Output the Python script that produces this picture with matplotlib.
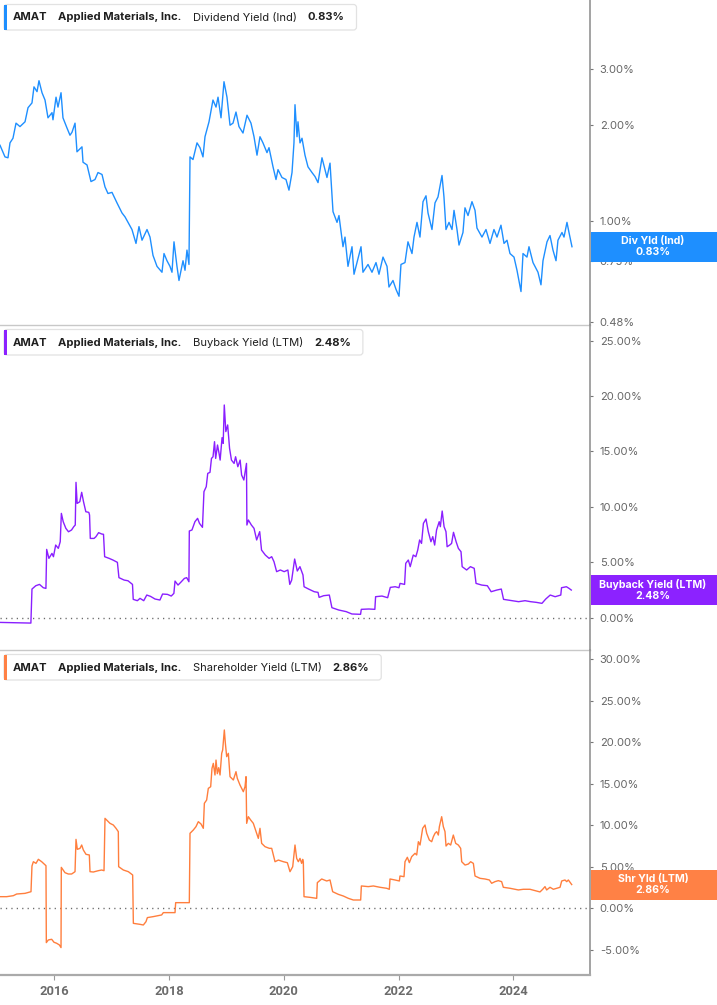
import matplotlib
matplotlib.use('Agg')
import matplotlib.pyplot as plt
from matplotlib.patches import FancyBboxPatch, Rectangle
from matplotlib.transforms import IdentityTransform
from matplotlib.ticker import FixedLocator, NullLocator

# ---------------- data (decimal years, percent) ----------------
div_dates = [2015.056, 2015.143, 2015.195, 2015.230, 2015.282, 2015.335, 2015.404, 2015.492, 2015.544, 2015.613,
             2015.648, 2015.701, 2015.735, 2015.788, 2015.840, 2015.892, 2015.962, 2015.979, 2016.032, 2016.066,
             2016.119, 2016.153, 2016.223, 2016.275, 2016.310, 2016.363, 2016.397, 2016.484, 2016.502, 2016.572,
             2016.641, 2016.711, 2016.763, 2016.833, 2016.885, 2016.937, 2017.007, 2017.094, 2017.181, 2017.234,
             2017.286, 2017.355, 2017.425, 2017.477, 2017.530, 2017.617, 2017.669, 2017.721, 2017.791, 2017.878,
             2017.913, 2017.965, 2018.017, 2018.052, 2018.087, 2018.139, 2018.174, 2018.244, 2018.279, 2018.313,
             2018.348, 2018.366, 2018.418, 2018.488, 2018.540, 2018.592, 2018.627, 2018.697, 2018.766, 2018.819,
             2018.854, 2018.906, 2018.958, 2019.010, 2019.063, 2019.115, 2019.167, 2019.219, 2019.289, 2019.359,
             2019.428, 2019.481, 2019.533, 2019.585, 2019.637, 2019.707, 2019.742, 2019.812, 2019.864, 2019.899,
             2019.968, 2020.038, 2020.090, 2020.143, 2020.177, 2020.195, 2020.230, 2020.247, 2020.282, 2020.317,
             2020.369, 2020.421, 2020.491, 2020.543, 2020.596, 2020.665, 2020.752, 2020.805, 2020.857, 2020.927,
             2020.961, 2021.031, 2021.066, 2021.118, 2021.188, 2021.223, 2021.275, 2021.345, 2021.379, 2021.467,
             2021.536, 2021.606, 2021.658, 2021.728, 2021.798, 2021.832, 2021.902, 2021.954, 2022.007, 2022.041,
             2022.111, 2022.163, 2022.233, 2022.268, 2022.320, 2022.372, 2022.425, 2022.477, 2022.512, 2022.581,
             2022.634, 2022.686, 2022.756, 2022.790, 2022.825, 2022.878, 2022.930, 2022.965, 2023.017, 2023.052,
             2023.121, 2023.156, 2023.209, 2023.278, 2023.331, 2023.365, 2023.452, 2023.522, 2023.592, 2023.661,
             2023.714, 2023.783, 2023.836, 2023.888, 2023.940, 2024.010, 2024.062, 2024.132, 2024.167, 2024.236,
             2024.271, 2024.341, 2024.428, 2024.480, 2024.515, 2024.585, 2024.637, 2024.689, 2024.742, 2024.776,
             2024.846, 2024.881, 2024.933, 2024.968, 2025.020]
div_vals = [1.73, 1.59, 1.58, 1.76, 1.82, 2.03, 1.98, 2.05, 2.27, 2.35,
            2.64, 2.55, 2.76, 2.53, 2.40, 2.11, 2.19, 2.08, 2.45, 2.28,
            2.53, 2.11, 1.96, 1.86, 1.90, 2.03, 1.65, 1.71, 1.53, 1.50,
            1.33, 1.35, 1.42, 1.40, 1.28, 1.22, 1.23, 1.14, 1.06, 1.03,
            0.99, 0.94, 0.85, 0.96, 0.87, 0.94, 0.89, 0.78, 0.72, 0.69,
            0.79, 0.75, 0.72, 0.69, 0.86, 0.72, 0.65, 0.75, 0.70, 0.81,
            0.73, 1.59, 1.56, 1.76, 1.70, 1.59, 1.84, 2.05, 2.40, 2.28,
            2.45, 2.11, 2.74, 2.45, 2.00, 2.03, 2.20, 1.98, 1.89, 2.15,
            2.03, 1.84, 1.61, 1.84, 1.76, 1.64, 1.70, 1.48, 1.35, 1.45,
            1.37, 1.35, 1.25, 1.42, 1.76, 2.32, 1.84, 2.05, 1.76, 1.82,
            1.61, 1.48, 1.42, 1.38, 1.32, 1.58, 1.37, 1.52, 1.07, 0.99,
            1.04, 0.83, 0.89, 0.72, 0.83, 0.68, 0.74, 0.83, 0.69, 0.73,
            0.69, 0.74, 0.68, 0.77, 0.72, 0.62, 0.65, 0.61, 0.58, 0.73,
            0.74, 0.86, 0.79, 0.89, 0.99, 0.89, 1.15, 1.20, 1.06, 0.94,
            1.14, 1.19, 1.39, 1.19, 0.94, 0.99, 0.94, 1.08, 0.94, 0.84,
            0.92, 1.10, 1.04, 1.15, 1.08, 0.95, 0.89, 0.94, 0.85, 0.94,
            0.89, 0.97, 0.85, 0.87, 0.79, 0.77, 0.70, 0.60, 0.79, 0.77,
            0.83, 0.74, 0.69, 0.63, 0.75, 0.86, 0.90, 0.81, 0.75, 0.87,
            0.92, 0.89, 0.99, 0.92, 0.83]

bb_dates = [2015.056, 2015.318, 2015.594, 2015.613, 2015.679, 2015.744, 2015.810, 2015.856, 2015.869, 2015.908,
            2015.961, 2015.987, 2016.026, 2016.072, 2016.105, 2016.125, 2016.157, 2016.203, 2016.249, 2016.302,
            2016.341, 2016.367, 2016.380, 2016.400, 2016.446, 2016.479, 2016.511, 2016.551, 2016.603, 2016.616,
            2016.629, 2016.695, 2016.728, 2016.774, 2016.826, 2016.859, 2016.879, 2016.957, 2017.023, 2017.101,
            2017.128, 2017.219, 2017.285, 2017.364, 2017.377, 2017.449, 2017.495, 2017.560, 2017.613, 2017.678,
            2017.757, 2017.842, 2017.888, 2017.973, 2018.039, 2018.085, 2018.105, 2018.157, 2018.203, 2018.268,
            2018.308, 2018.347, 2018.354, 2018.400, 2018.452, 2018.498, 2018.531, 2018.583, 2018.609, 2018.649,
            2018.675, 2018.714, 2018.740, 2018.767, 2018.793, 2018.813, 2018.845, 2018.872, 2018.891, 2018.924,
            2018.944, 2018.963, 2018.990, 2019.022, 2019.055, 2019.088, 2019.134, 2019.160, 2019.199, 2019.239,
            2019.265, 2019.304, 2019.350, 2019.357, 2019.383, 2019.435, 2019.481, 2019.527, 2019.580, 2019.612,
            2019.678, 2019.744, 2019.789, 2019.829, 2019.875, 2019.940, 2020.006, 2020.071, 2020.104, 2020.137,
            2020.189, 2020.235, 2020.281, 2020.334, 2020.353, 2020.432, 2020.530, 2020.596, 2020.615, 2020.694,
            2020.793, 2020.838, 2020.956, 2021.088, 2021.186, 2021.337, 2021.350, 2021.481, 2021.586, 2021.599,
            2021.710, 2021.809, 2021.855, 2021.940, 2022.006, 2022.025, 2022.104, 2022.124, 2022.169, 2022.202,
            2022.255, 2022.300, 2022.333, 2022.366, 2022.399, 2022.432, 2022.477, 2022.517, 2022.563, 2022.595,
            2022.628, 2022.661, 2022.707, 2022.727, 2022.759, 2022.792, 2022.825, 2022.845, 2022.890, 2022.923,
            2022.956, 2023.002, 2023.041, 2023.087, 2023.107, 2023.185, 2023.251, 2023.317, 2023.349, 2023.448,
            2023.546, 2023.612, 2023.710, 2023.789, 2023.828, 2023.972, 2024.090, 2024.202, 2024.300, 2024.398,
            2024.497, 2024.563, 2024.641, 2024.727, 2024.825, 2024.838, 2024.923, 2024.969, 2025.008]
bb_vals = [-0.44, -0.47, -0.50, 2.57, 2.87, 2.99, 2.69, 2.63, 6.15, 5.34,
           5.79, 5.49, 6.54, 6.24, 6.84, 9.40, 8.65, 8.05, 7.74, 7.90,
           8.20, 8.35, 12.20, 10.30, 10.45, 11.30, 10.45, 9.55, 9.49, 9.25,
           7.14, 7.14, 7.30, 7.66, 7.54, 7.51, 5.49, 5.34, 5.19, 4.98,
           3.60, 3.38, 3.32, 2.99, 1.64, 1.52, 1.73, 1.52, 2.03, 1.91,
           1.67, 1.58, 2.12, 2.09, 1.94, 2.18, 3.29, 2.93, 3.17, 3.53,
           3.60, 3.23, 7.81, 7.90, 8.65, 8.95, 8.50, 8.14, 11.36, 11.81,
           13.01, 13.10, 14.36, 14.51, 15.87, 14.36, 15.57, 14.81, 14.21, 16.23,
           15.72, 19.18, 16.78, 17.38, 15.27, 14.21, 13.91, 14.51, 13.61, 14.21,
           12.86, 12.41, 13.91, 8.35, 8.80, 8.35, 8.05, 7.00, 7.75, 6.09,
           5.64, 5.34, 5.49, 5.04, 4.14, 4.29, 4.14, 4.29, 2.99, 3.38,
           5.28, 4.20, 4.59, 3.84, 2.78, 2.57, 2.33, 2.27, 1.82, 1.97,
           2.03, 0.89, 0.68, 0.53, 0.32, 0.29, 0.74, 0.77, 0.74, 1.88,
           1.94, 1.79, 2.72, 2.78, 2.69, 3.08, 2.99, 4.89, 5.19, 4.59,
           5.64, 5.49, 6.09, 7.00, 6.69, 8.50, 8.89, 7.75, 6.84, 7.30,
           6.54, 7.90, 8.65, 8.20, 9.61, 8.20, 7.75, 6.39, 6.54, 6.69,
           7.69, 6.84, 6.24, 5.94, 4.59, 4.29, 4.59, 4.44, 3.08, 2.93,
           2.87, 2.33, 2.48, 2.57, 1.64, 1.52, 1.43, 1.52, 1.43, 1.37,
           1.28, 1.67, 2.03, 1.88, 2.03, 2.69, 2.78, 2.63, 2.48]

shr_dates = [2015.056, 2015.172, 2015.288, 2015.346, 2015.492, 2015.596, 2015.613, 2015.637, 2015.683, 2015.724,
             2015.782, 2015.857, 2015.863, 2015.898, 2015.956, 2015.997, 2016.043, 2016.090, 2016.119, 2016.124,
             2016.188, 2016.246, 2016.304, 2016.363, 2016.380, 2016.403, 2016.450, 2016.479, 2016.508, 2016.554,
             2016.612, 2016.624, 2016.682, 2016.769, 2016.827, 2016.868, 2016.885, 2016.914, 2016.972, 2017.030,
             2017.077, 2017.117, 2017.123, 2017.205, 2017.292, 2017.367, 2017.379, 2017.495, 2017.553, 2017.599,
             2017.623, 2017.727, 2017.872, 2017.901, 2018.105, 2018.116, 2018.250, 2018.354, 2018.366, 2018.424,
             2018.470, 2018.511, 2018.558, 2018.598, 2018.616, 2018.656, 2018.685, 2018.726, 2018.749, 2018.772,
             2018.801, 2018.819, 2018.842, 2018.865, 2018.889, 2018.918, 2018.935, 2018.964, 2018.982, 2019.005,
             2019.034, 2019.063, 2019.121, 2019.167, 2019.190, 2019.237, 2019.295, 2019.324, 2019.342, 2019.353,
             2019.382, 2019.423, 2019.469, 2019.516, 2019.556, 2019.585, 2019.614, 2019.673, 2019.748, 2019.789,
             2019.847, 2019.905, 2019.992, 2020.062, 2020.108, 2020.155, 2020.195, 2020.224, 2020.253, 2020.282,
             2020.311, 2020.329, 2020.340, 2020.352, 2020.456, 2020.573, 2020.584, 2020.660, 2020.747, 2020.805,
             2020.851, 2020.950, 2021.037, 2021.124, 2021.211, 2021.339, 2021.351, 2021.473, 2021.560, 2021.676,
             2021.792, 2021.838, 2021.850, 2021.937, 2022.013, 2022.024, 2022.094, 2022.111, 2022.152, 2022.187,
             2022.228, 2022.286, 2022.315, 2022.344, 2022.373, 2022.419, 2022.460, 2022.489, 2022.535, 2022.576,
             2022.605, 2022.634, 2022.663, 2022.692, 2022.710, 2022.750, 2022.779, 2022.808, 2022.826, 2022.866,
             2022.907, 2022.953, 2022.994, 2023.040, 2023.081, 2023.099, 2023.157, 2023.215, 2023.255, 2023.302,
             2023.331, 2023.418, 2023.505, 2023.581, 2023.621, 2023.679, 2023.737, 2023.795, 2023.824, 2023.941,
             2024.028, 2024.086, 2024.173, 2024.289, 2024.376, 2024.463, 2024.510, 2024.550, 2024.579, 2024.637,
             2024.696, 2024.754, 2024.812, 2024.841, 2024.899, 2024.928, 2024.957, 2025.015]
shr_vals = [1.40, 1.40, 1.52, 1.72, 1.80, 2.00, 5.09, 5.61, 5.41, 5.90,
            5.61, 5.13, -4.13, -3.81, -3.73, -4.09, -4.21, -4.41, -4.73, 4.93,
            4.29, 4.13, 4.13, 4.41, 8.30, 7.10, 7.22, 7.62, 7.02, 6.50,
            6.42, 4.41, 4.37, 4.53, 4.61, 4.53, 10.83, 10.63, 10.23, 10.03,
            9.63, 9.23, 5.01, 4.61, 4.41, 4.01, -1.81, -1.93, -2.01, -1.61,
            -1.12, -1.00, -0.80, -0.52, -0.52, 0.68, 0.68, 0.68, 9.03, 9.43,
            9.83, 10.43, 10.15, 9.63, 12.64, 13.04, 14.44, 14.64, 16.85, 17.45,
            16.05, 17.85, 16.21, 16.93, 16.05, 18.66, 19.06, 21.47, 19.86, 18.26,
            18.66, 15.85, 15.45, 16.45, 15.65, 14.84, 14.04, 14.64, 15.85, 10.23,
            11.03, 10.63, 10.23, 9.23, 8.42, 9.63, 7.82, 7.42, 7.22, 7.22,
            5.61, 5.81, 5.61, 5.49, 4.41, 5.01, 7.62, 6.01, 5.61, 6.01,
            5.41, 5.89, 5.61, 1.40, 1.32, 1.20, 3.09, 3.53, 3.29, 3.41,
            2.00, 1.68, 1.48, 1.20, 1.00, 1.00, 2.69, 2.61, 2.69, 2.53,
            2.41, 2.29, 3.53, 3.41, 3.29, 3.89, 3.81, 5.61, 6.14, 5.50,
            6.22, 6.62, 6.42, 8.02, 7.62, 9.63, 10.03, 9.03, 8.22, 8.02,
            8.62, 9.03, 9.23, 8.82, 9.83, 11.03, 9.83, 9.23, 7.50, 7.82,
            7.62, 8.82, 7.82, 7.62, 7.22, 5.61, 5.21, 5.33, 5.61, 5.41,
            3.89, 3.61, 3.53, 3.41, 3.01, 3.21, 3.33, 3.21, 2.53, 2.41,
            2.29, 2.21, 2.29, 2.29, 2.13, 1.97, 2.29, 2.61, 2.21, 2.53,
            2.29, 2.41, 2.53, 3.29, 3.41, 3.21, 3.41, 2.86]

assert len(div_dates) == len(div_vals), (len(div_dates), len(div_vals))
assert len(bb_dates) == len(bb_vals), (len(bb_dates), len(bb_vals))
assert len(shr_dates) == len(shr_vals), (len(shr_dates), len(shr_vals))

ticker = "AMAT"
company = "Applied Materials, Inc."
metric_names = ["Dividend Yield (Ind)", "Buyback Yield (LTM)", "Shareholder Yield (LTM)"]
short_names = ["Div Yld (Ind)", "Buyback Yield (LTM)", "Shr Yld (LTM)"]
last_vals = [0.83, 2.48, 2.86]
div_ticks = [0.48, 0.75, 1.00, 2.00, 3.00]
bb_ticks = [0, 5, 10, 15, 20, 25]
shr_ticks = [-5, 0, 5, 10, 15, 20, 25, 30]
year_ticks = [2016, 2018, 2020, 2022, 2024]

colors_line = ['#1E8FFF', '#8A1FFF', '#FF7E3D']
colors_box = ['#1E8FFF', '#8C22FF', '#FF8145']

# ---------------- figure ----------------
W, H = 717, 1005
fig = plt.figure(figsize=(W / 100, H / 100), dpi=100)
FONT = ['Inter', 'DejaVu Sans']
XFONT = ['Roboto', 'DejaVu Sans']
RIGHT = 590


def px_axes(top, bottom):
    return fig.add_axes([0, 1 - bottom / H, RIGHT / W, (bottom - top) / H])


ax1 = px_axes(0, 325)
ax2 = px_axes(325, 650)
ax3 = px_axes(650, 975)
axes = [ax1, ax2, ax3]

ax1.plot(div_dates, div_vals, color=colors_line[0], lw=1.0)
ax2.plot(bb_dates, bb_vals, color=colors_line[1], lw=1.0)
ax3.plot(shr_dates, shr_vals, color=colors_line[2], lw=1.0)

ax1.set_yscale('log')
ax1.set_ylim(0.471, 4.95)
ax2.set_ylim(-2.93, 26.40)
ax3.set_ylim(-8.03, 31.10)

for ax, ticks in zip(axes, [div_ticks, bb_ticks, shr_ticks]):
    ax.set_xlim(2015.056, 2025.334)
    ax.yaxis.set_major_locator(FixedLocator(ticks))
    ax.yaxis.set_minor_locator(NullLocator())
    ax.set_yticklabels([f"{t:.2f}%" for t in ticks])
    ax.yaxis.tick_right()
    ax.tick_params(axis='y', which='major', direction='out', length=2.5, width=0.8,
                   color='#777777', labelcolor='#666666', labelsize=8, pad=4.5)
    for lab in ax.get_yticklabels():
        lab.set_family(FONT)
    ax.spines['left'].set_visible(False)
    ax.spines['top'].set_visible(False)
    ax.spines['right'].set_color('#8a8a8a')
    ax.spines['right'].set_linewidth(1.1)
    ax.set_facecolor('none')

for ax in [ax1, ax2]:
    ax.set_xticks([])
    ax.spines['bottom'].set_color('#c8c8c8')
    ax.spines['bottom'].set_linewidth(1.0)

ax3.set_xticks(year_ticks)
ax3.set_xticklabels([str(y) for y in year_ticks])
ax3.tick_params(axis='x', direction='out', length=3.5, width=0.8, color='#999999',
                labelcolor='#6b6b6b', labelsize=9.3, pad=4)
for lab in ax3.get_xticklabels():
    lab.set_family(XFONT)
    lab.set_fontweight('bold')
ax3.spines['bottom'].set_color('#aaaaaa')
ax3.spines['bottom'].set_linewidth(1.6)

for ax in [ax2, ax3]:
    ax.axhline(0, color='#6a6a6a', lw=1.0, ls=(0, (0.9, 3.0)), zorder=1)

renderer = fig.canvas.get_renderer()


def legend(top_px, color, metric, value):
    yc = top_px + 17.5
    parts = [(ticker, 'bold'), (company, 'bold'), (metric, 'normal'), (value, 'bold')]
    x = 13
    x_end = x
    for s, w in parts:
        t = fig.text(x / W, 1 - yc / H, s, fontsize=8.05, fontweight=w, color='#1f1f1f',
                     va='center', ha='left', family=FONT, zorder=6)
        bb = t.get_window_extent(renderer)
        x_end = bb.x1
        x = bb.x1 + 11
    box_w = x_end + 12 - 4
    y0 = H - (top_px + 30)
    box = FancyBboxPatch((4, y0), box_w, 25.5, boxstyle='round,pad=0,rounding_size=3',
                         transform=IdentityTransform(), fc='white', ec='#e2e2e2', lw=0.9, zorder=5)
    fig.add_artist(box)
    bar = Rectangle((4, y0 + 0.5), 3, 24.5, transform=IdentityTransform(), fc=color, ec='none', zorder=5.5)
    fig.add_artist(bar)


def value_box(ax, val, color, line1, line2):
    yd = ax.transData.transform((2020, val))[1]
    rect = Rectangle((RIGHT + 1, yd - 15), W - RIGHT, 30, transform=IdentityTransform(),
                     fc=color, ec='none', zorder=7)
    fig.add_artist(rect)
    xc = 653 / W
    fig.text(xc, (yd + 5.5) / H, line1, color='white', fontsize=7.6, fontweight='bold',
             ha='center', va='center', family=FONT, zorder=8)
    fig.text(xc, (yd - 5.5) / H, line2, color='white', fontsize=7.6, fontweight='bold',
             ha='center', va='center', family=FONT, zorder=8)


tops = [0, 325, 650]
for i, ax in enumerate(axes):
    legend(tops[i], colors_box[i], metric_names[i], f"{last_vals[i]:.2f}%")
    value_box(ax, last_vals[i], colors_box[i], short_names[i], f"{last_vals[i]:.2f}%")

fig.savefig('out.png', dpi=100)
